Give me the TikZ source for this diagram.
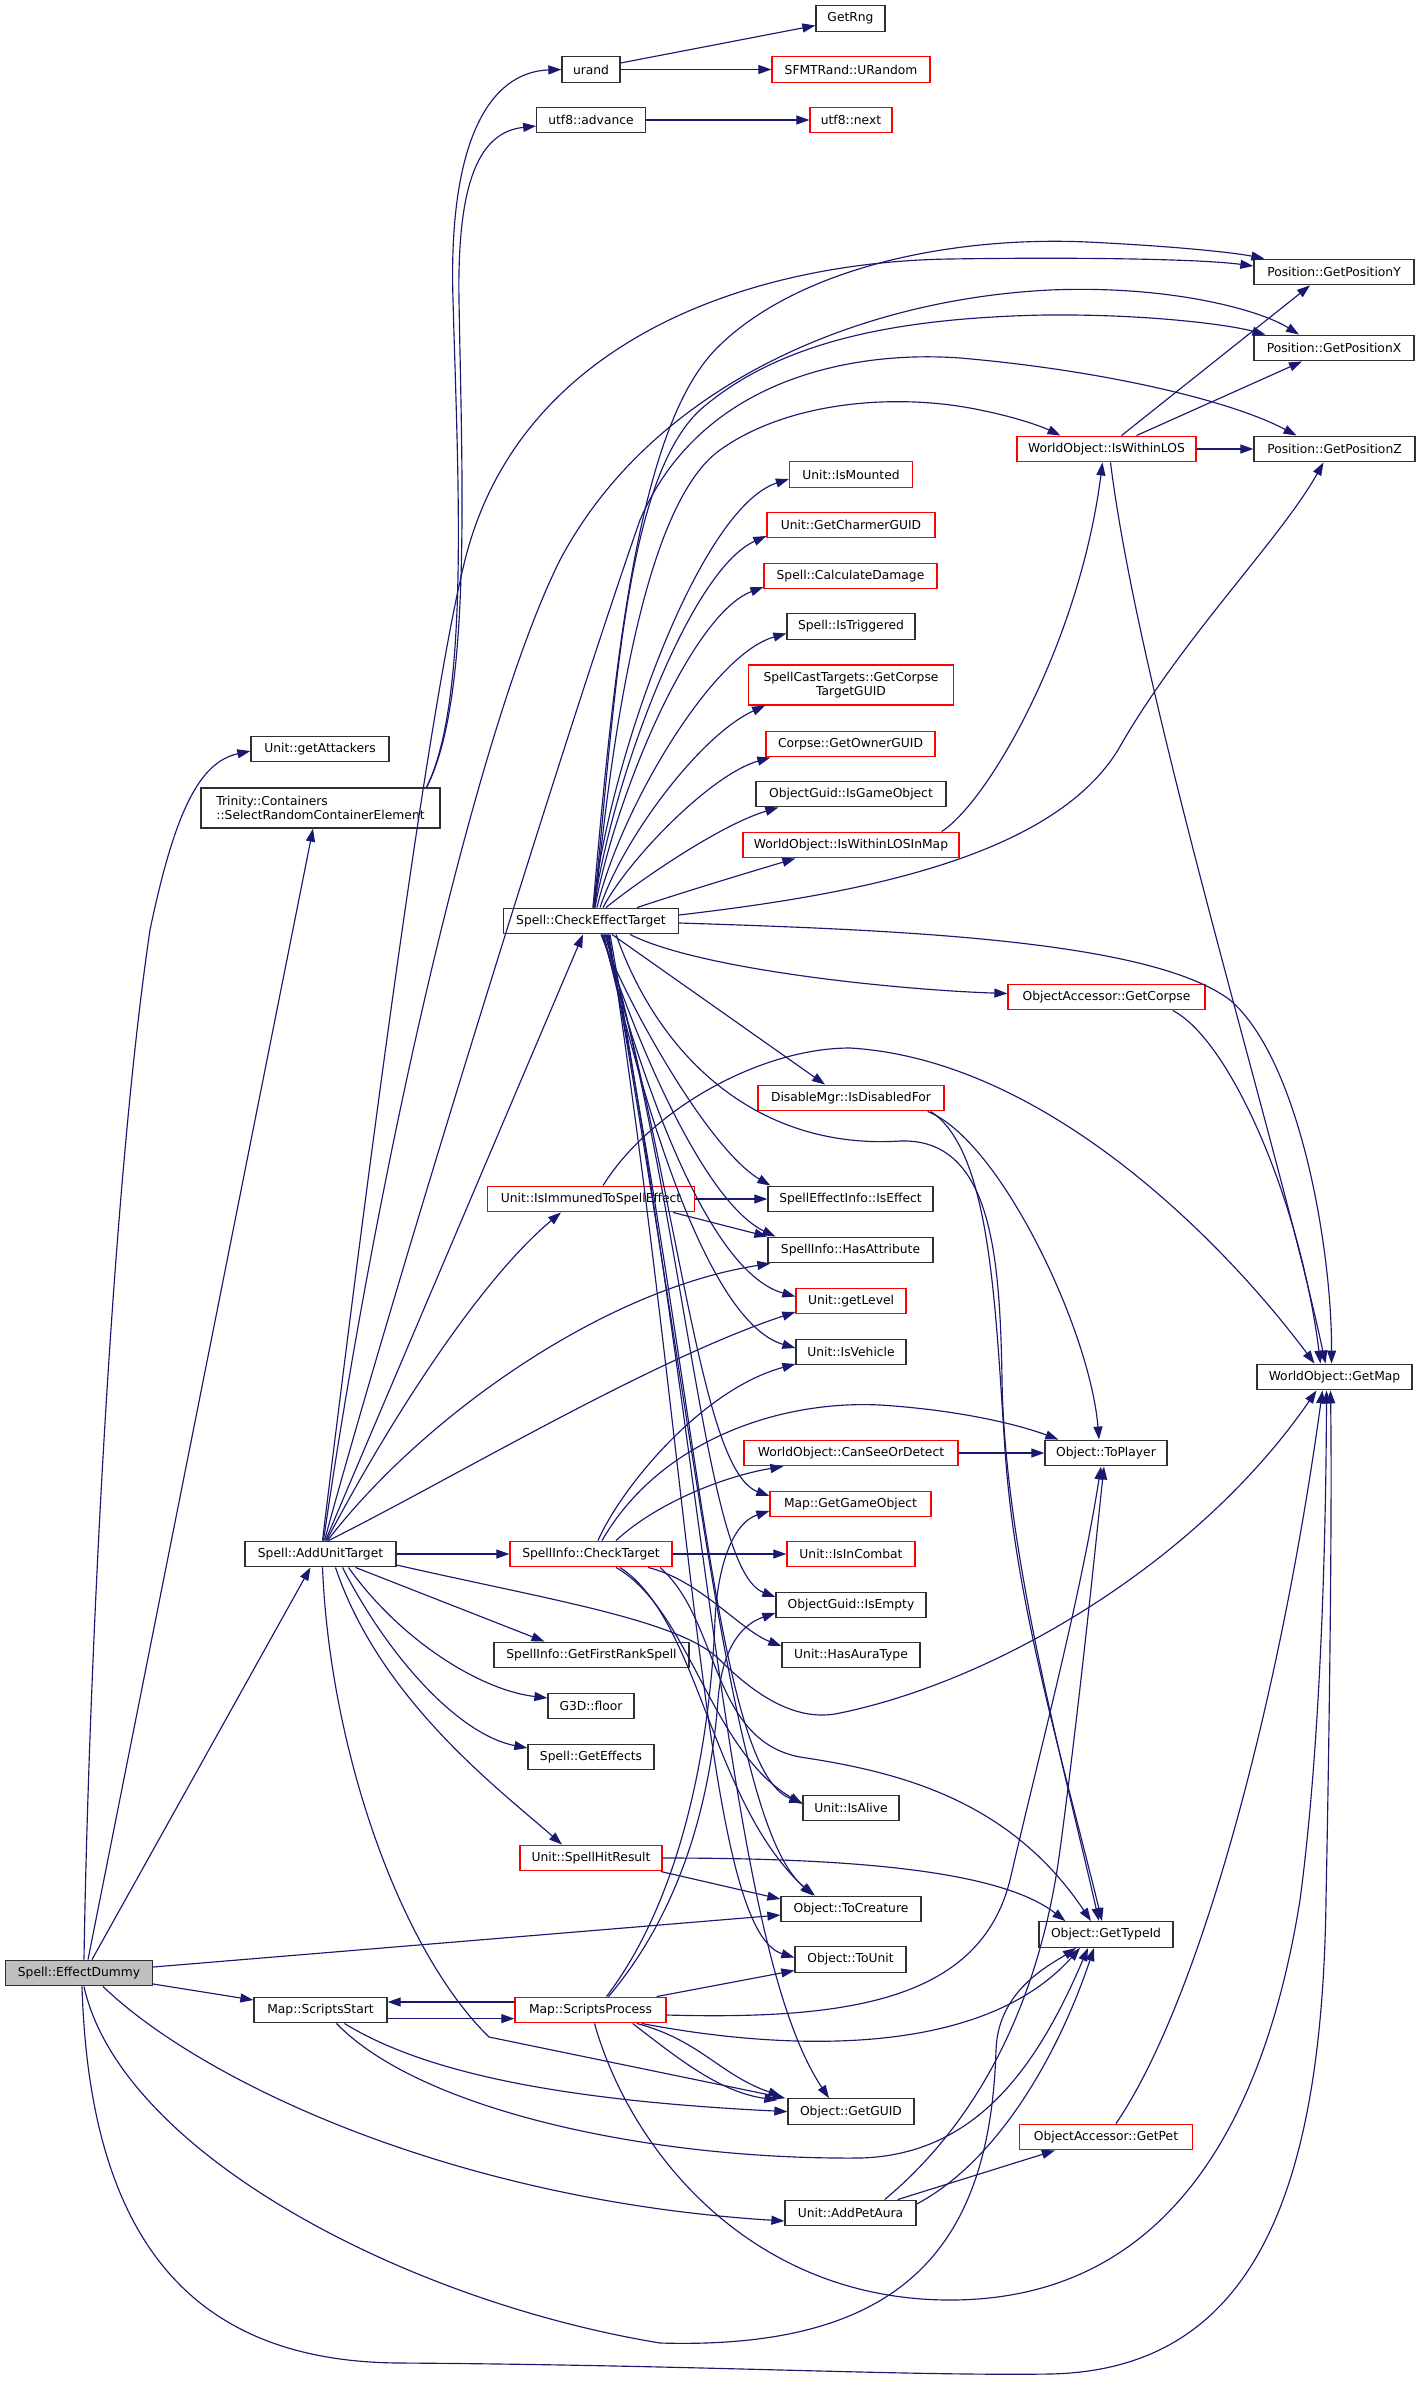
\documentclass[tikz,border=0pt]{standalone}
\usepackage{fontspec}
\setmainfont{DejaVu Sans}
\usetikzlibrary{arrows.meta,calc}
\definecolor{edgecol}{HTML}{191970}
\definecolor{grayfill}{HTML}{BFBFBF}
\definecolor{bordercol}{HTML}{303030}
\begin{document}
\begin{tikzpicture}[x=1pt,y=-1pt,
 nd/.style={draw=bordercol, line width=1.3pt, rectangle, inner sep=0pt, minimum height=25.6pt, font=\fontsize{12.3}{14.5}\selectfont, fill=white},
 rd/.style={nd, draw=red},
 e/.style={draw=edgecol, line width=1.15pt, -{Triangle[length=13pt,width=9pt]}}]
\useasboundingbox (0,0) rectangle (1421,2381);
\fill[white] (0,0) rectangle (1421,2381);
% nodes
\node[nd, minimum width=69pt] (rng) at (850.5,18.5) {GetRng};
\node[nd, minimum width=58pt] (urand) at (591,69.5) {urand};
\node[rd, minimum width=158pt] (sfmt) at (851,69.5) {SFMTRand::URandom};
\node[nd, minimum width=108.5pt] (adv) at (591,120) {utf8::advance};
\node[rd, minimum width=82pt] (next) at (851,120) {utf8::next};
\node[nd, minimum width=160pt] (posy) at (1334,272) {Position::GetPositionY};
\node[nd, minimum width=160pt] (posx) at (1334,348) {Position::GetPositionX};
\node[rd, minimum width=179pt] (los) at (1106.5,449) {WorldObject::IsWithinLOS};
\node[nd, minimum width=161pt] (posz) at (1334.5,449) {Position::GetPositionZ};
\node[rd, minimum width=123pt] (mounted) at (851,474.5) {Unit::IsMounted};
\node[rd, minimum width=168pt] (charmer) at (851,525) {Unit::GetCharmerGUID};
\node[rd, minimum width=173pt] (dmg) at (850.5,576) {Spell::CalculateDamage};
\node[nd, minimum width=128pt] (trig) at (851,626.5) {Spell::IsTriggered};
\node[rd, minimum width=204.5pt, minimum height=40pt, align=center] (corpse) at (851,685) {SpellCastTargets::GetCorpse\\TargetGUID};
\node[rd, minimum width=169pt] (owner) at (850.5,744) {Corpse::GetOwnerGUID};
\node[nd, minimum width=190pt] (isgo) at (851,794) {ObjectGuid::IsGameObject};
\node[rd, minimum width=216pt] (losmap) at (851,845) {WorldObject::IsWithinLOSInMap};
\node[nd, minimum width=138pt] (att) at (320,749) {Unit::getAttackers};
\node[nd, minimum width=239pt, minimum height=40pt, align=left] (trin) at (320.5,808) {Trinity::Containers\\::SelectRandomContainerElement};
\node[nd, minimum width=175pt] (cet) at (591,921) {Spell::CheckEffectTarget};
\node[rd, minimum width=197pt] (getcorpse) at (1106.5,997) {ObjectAccessor::GetCorpse};
\node[rd, minimum width=186pt] (disable) at (851,1098) {DisableMgr::IsDisabledFor};
\node[rd, minimum width=207pt] (immune) at (591,1199) {Unit::IsImmunedToSpellEffect};
\node[nd, minimum width=165pt] (iseffect) at (850.5,1199) {SpellEffectInfo::IsEffect};
\node[nd, minimum width=165pt] (hasattr) at (850.5,1250) {SpellInfo::HasAttribute};
\node[rd, minimum width=110pt] (level) at (851,1301) {Unit::getLevel};
\node[nd, minimum width=110pt] (vehicle) at (851,1352) {Unit::IsVehicle};
\node[nd, minimum width=155pt] (getmap) at (1334.5,1377) {WorldObject::GetMap};
\node[rd, minimum width=214pt] (cansee) at (851,1453) {WorldObject::CanSeeOrDetect};
\node[nd, minimum width=122pt] (toplayer) at (1106,1453) {Object::ToPlayer};
\node[rd, minimum width=161pt] (getgo) at (850.5,1504) {Map::GetGameObject};
\node[nd, minimum width=151pt] (aut) at (320.5,1554) {Spell::AddUnitTarget};
\node[rd, minimum width=162pt] (ct) at (591,1554) {SpellInfo::CheckTarget};
\node[rd, minimum width=128pt] (combat) at (851,1554) {Unit::IsInCombat};
\node[nd, minimum width=150pt] (isempty) at (851,1605) {ObjectGuid::IsEmpty};
\node[nd, minimum width=138pt] (aura) at (851,1655) {Unit::HasAuraType};
\node[nd, minimum width=195pt] (firstrank) at (591.5,1655) {SpellInfo::GetFirstRankSpell};
\node[nd, minimum width=86pt] (floor) at (591,1706) {G3D::floor};
\node[nd, minimum width=126pt] (effects) at (591,1757) {Spell::GetEffects};
\node[nd, minimum width=96pt] (alive) at (851,1808) {Unit::IsAlive};
\node[rd, minimum width=142pt] (hit) at (591,1858) {Unit::SpellHitResult};
\node[nd, minimum width=140pt] (tocreature) at (851,1909) {Object::ToCreature};
\node[nd, minimum width=134pt] (typeid) at (1106,1934.5) {Object::GetTypeId};
\node[nd, minimum width=111pt] (tounit) at (850.5,1959.5) {Object::ToUnit};
\node[nd, minimum width=147pt, fill=grayfill] (ed) at (79,1973) {Spell::EffectDummy};
\node[nd, minimum width=133pt] (sstart) at (320.5,2010) {Map::ScriptsStart};
\node[rd, minimum width=151pt] (sproc) at (590.5,2010) {Map::ScriptsProcess};
\node[nd, minimum width=126pt] (guid) at (851,2111.6) {Object::GetGUID};
\node[rd, minimum width=173pt] (getpet) at (1106,2137) {ObjectAccessor::GetPet};
\node[nd, minimum width=131pt] (petaura) at (850.5,2213) {Unit::AddPetAura};

% ---- edges ----
\draw[e] ($(urand.east)+(0,-6.5)$) -- ($(rng.west)+(0,7)$);
\draw[e] (urand.east) -- (sfmt.west);
\draw[e] (adv.east) -- (next.west);
\draw[e] ($(trin.north)+(106,0)$) .. controls (470,700) and (458,480) .. (453,300) .. controls (448,140) and (490,72) .. (urand.west);
\draw[e] ($(trin.north)+(106,0)$) .. controls (472,700) and (462,480) .. (459,300) .. controls (457,180) and (480,132) .. ($(adv.west)+(0,6)$);
% positions
\draw[e] ($(aut.north)+(2,0)$) .. controls (370,1150) and (430,700) .. (465,560) .. controls (520,340) and (750,262) .. (950,259) .. controls (1080,257) and (1200,259) .. ($(posy.west)+(0,-6)$);
\draw[e] ($(cet.north)+(2,0)$) .. controls (615,650) and (640,420) .. (720,345) .. controls (800,268) and (950,236) .. (1087,242) .. controls (1170,246) and (1230,252) .. ($(posy.north west)+(11,0)$);
\draw[e] ($(aut.north)+(3,0)$) .. controls (380,1150) and (480,720) .. (560,560) .. controls (650,390) and (850,300) .. (1050,290) .. controls (1170,285) and (1260,310) .. ($(posx.north)+(-35,0)$);
\draw[e] ($(cet.north)+(3,0)$) .. controls (615,700) and (625,480) .. (700,410) .. controls (780,340) and (900,318) .. (1045,315) .. controls (1150,314) and (1230,325) .. ($(posx.north west)+(12,0)$);
\draw[e] ($(aut.north)+(4,0)$) .. controls (390,1300) and (560,750) .. (640,520) .. controls (700,380) and (850,350) .. (960,358) .. controls (1100,370) and (1230,400) .. ($(posz.north)+(-38,0)$);
\draw[e] ($(cet.north)+(4,0)$) .. controls (615,700) and (650,500) .. (720,450) .. controls (790,400) and (900,393) .. (980,410) .. controls (1020,418) and (1045,428) .. ($(los.north)+(-46,0)$);
\draw[e] ($(cet.east)+(0,-6)$) .. controls (850,895) and (1050,860) .. (1118,750) .. controls (1180,640) and (1280,540) .. ($(posz.south)+(-11,0)$);
\draw[e] ($(los.north)+(15,0)$) -- ($(posy.south)+(-24,0)$);
\draw[e] ($(los.north)+(30,0)$) -- ($(posx.south)+(-32,0)$);
\draw[e] (los.east) -- (posz.west);
\draw[e] ($(los.south)+(4,0)$) .. controls (1140,700) and (1280,1150) .. ($(getmap.north)+(-9,0)$);
\draw[e] ($(losmap.north east)+(-18,0)$) .. controls (990,800) and (1080,640) .. ($(los.south)+(-4,0)$);
% CET top fan
\draw[e] ($(cet.north)+(2,0)$) .. controls (610,757) and (700,508) .. ($(mounted.west)+(0,4.5)$);
\draw[e] ($(cet.north)+(3,0)$) .. controls (612,780) and (690,570) .. ($(charmer.west)+(0,11)$);
\draw[e] ($(cet.north)+(4,0)$) .. controls (614,800) and (690,615) .. ($(dmg.west)+(0,11)$);
\draw[e] ($(cet.north)+(6,0)$) .. controls (618,815) and (710,655) .. ($(trig.west)+(0,7)$);
\draw[e] ($(cet.north)+(9,0)$) .. controls (622,840) and (700,735) .. ($(corpse.south west)+(17,0)$);
\draw[e] ($(cet.north)+(12,0)$) .. controls (628,860) and (710,775) .. ($(owner.south west)+(5,0)$);
\draw[e] ($(cet.north)+(15,0)$) .. controls (640,880) and (720,825) .. ($(isgo.south west)+(23,0)$);
\draw[e] ($(cet.north)+(46,0)$) .. controls (690,890) and (750,872) .. ($(losmap.south west)+(53,0)$);
% CET bottom / right
\draw[e] ($(cet.south)+(39,0)$) .. controls (700,970) and (900,990) .. ($(getcorpse.west)+(0,-3.5)$);
\draw[e] ($(cet.east)+(0,2)$) .. controls (900,930) and (1150,940) .. (1230,1000) .. controls (1300,1060) and (1332,1250) .. ($(getmap.north)+(-3,0)$);
\draw[e] ($(cet.south)+(21,0)$) -- ($(disable.north)+(-26,0)$);
\draw[e] ($(cet.south)+(10,0)$) .. controls (630,1010) and (710,1150) .. ($(iseffect.north west)+(3,0)$);
\draw[e] ($(cet.south)+(11,0)$) .. controls (628,1020) and (700,1200) .. ($(hasattr.north west)+(8,0)$);
\draw[e] ($(cet.south)+(12,0)$) .. controls (630,1040) and (700,1270) .. ($(level.west)+(0,-4.5)$);
\draw[e] ($(cet.south)+(13,0)$) .. controls (632,1060) and (700,1320) .. ($(vehicle.west)+(0,-4)$);
\draw[e] ($(cet.south)+(14,0)$) .. controls (680,1200) and (700,1470) .. ($(getgo.west)+(0,-8)$);
\draw[e] ($(cet.south)+(15,0)$) .. controls (690,1250) and (705,1570) .. ($(isempty.west)+(0,-8)$);
\draw[e] ($(cet.south)+(16,0)$) .. controls (700,1400) and (715,1770) .. ($(alive.west)+(0,-5)$);
\draw[e] ($(cet.south)+(17,0)$) .. controls (700,1450) and (730,1830) .. ($(tocreature.north)+(-36,0)$);
\draw[e] ($(cet.south)+(18,0)$) .. controls (695,1500) and (705,1930) .. ($(tounit.west)+(0,-2)$);
\draw[e] ($(cet.south)+(19,0)$) .. controls (710,1500) and (730,1950) .. ($(guid.north)+(-22,0)$);
\draw[e] ($(cet.south)+(25,0)$) .. controls (660,1060) and (760,1150) .. (900,1141) .. controls (990,1138) and (1000,1250) .. (1002,1380) .. controls (1005,1550) and (1060,1750) .. ($(typeid.north)+(-7,0)$);
% DisableMgr
\draw[e] ($(disable.south east)+(-17,0)$) .. controls (1000,1140) and (1090,1330) .. ($(toplayer.north)+(-7,0)$);
\draw[e] ($(disable.south east)+(-14,0)$) .. controls (990,1150) and (995,1300) .. (1005,1450) .. controls (1015,1600) and (1060,1750) .. ($(typeid.north)+(-4,0)$);
% Immune
\draw[e] (immune.east) -- (iseffect.west);
\draw[e] ($(immune.south east)+(-22,0)$) -- (hasattr.north west);
\draw[e] ($(immune.north)+(12,0)$) .. controls (650,1110) and (760,1048) .. (850,1048) .. controls (1050,1060) and (1230,1250) .. ($(getmap.north)+(-20,0)$);
% AddUnitTarget
\draw[e] ($(aut.north)+(5,0)$) -- ($(cet.south)+(-8,0)$);
\draw[e] ($(aut.north)+(6,0)$) .. controls (390,1420) and (480,1280) .. ($(immune.south)+(-30,0)$);
\draw[e] ($(aut.north)+(7,0)$) .. controls (420,1420) and (600,1290) .. ($(hasattr.south west)+(3,0)$);
\draw[e] ($(aut.north)+(8,0)$) .. controls (450,1480) and (650,1360) .. ($(level.west)+(0,11)$);
\draw[e] (aut.east) -- (ct.west);
\draw[e] ($(aut.south)+(35,0)$) -- ($(firstrank.north)+(-47,0)$);
\draw[e] ($(aut.south)+(28,0)$) .. controls (400,1640) and (480,1690) .. ($(floor.west)+(0,-8)$);
\draw[e] ($(aut.south)+(22,0)$) .. controls (390,1660) and (460,1735) .. ($(effects.west)+(0,-9)$);
\draw[e] ($(aut.south)+(15,0)$) .. controls (380,1700) and (500,1790) .. ($(hit.north)+(-29,0)$);
\draw[e] ($(aut.east)+(0,11)$) .. controls (550,1600) and (680,1620) .. (720,1660) .. controls (760,1700) and (800,1722) .. (840,1713) .. controls (1000,1680) and (1200,1560) .. ($(getmap.south)+(-18,0)$);
\draw[e] ($(aut.south)+(2,0)$) .. controls (330,1750) and (400,1950) .. (489,2037) -- ($(guid.north west)+(-2,0)$);
% CheckTarget
\draw[e] ($(ct.north)+(7,0)$) .. controls (620,1490) and (700,1390) .. ($(vehicle.west)+(0,12)$);
\draw[e] ($(ct.north)+(11,0)$) .. controls (660,1440) and (780,1400) .. (880,1405) .. controls (960,1410) and (1020,1425) .. ($(toplayer.north west)+(14,0)$);
\draw[e] ($(ct.north)+(25,0)$) .. controls (660,1500) and (730,1475) .. ($(cansee.south west)+(40,0)$);
\draw[e] (ct.east) -- (combat.west);
\draw[e] ($(ct.south)+(57,0)$) .. controls (700,1580) and (740,1630) .. ($(aura.west)+(0,-9)$);
\draw[e] ($(ct.south)+(25,0)$) .. controls (690,1610) and (710,1750) .. ($(alive.west)+(0,-4)$);
\draw[e] ($(ct.south)+(29,0)$) .. controls (700,1620) and (710,1800) .. ($(tocreature.north)+(-38,0)$);
\draw[e] ($(ct.south)+(69,0)$) .. controls (720,1620) and (710,1740) .. (800,1757) .. controls (900,1772) and (1010,1800) .. ($(typeid.north)+(-15,0)$);
% SpellHitResult
\draw[e] ($(hit.south east)+(-2,0)$) -- ($(tocreature.west)+(0,-10)$);
\draw[e] (hit.east) .. controls (850,1858) and (1000,1870) .. ($(typeid.north west)+(27,0)$);
\draw[e] (cansee.east) -- (toplayer.west);
% EffectDummy
\draw[e] ($(ed.north)+(5,0)$) .. controls (88,1700) and (110,1200) .. (150,930) .. controls (175,810) and (200,762) .. ($(att.west)+(0,2)$);
\draw[e] ($(ed.north)+(9,0)$) -- ($(trin.south)+(-7.5,0)$);
\draw[e] ($(ed.north)+(13,0)$) -- ($(aut.south)+(-10,0)$);
\draw[e] ($(ed.east)+(0,-6)$) -- ($(tocreature.west)+(0,6)$);
\draw[e] ($(ed.east)+(0,11)$) -- ($(sstart.west)+(0,-10)$);
\draw[e] ($(ed.south)+(24,0)$) .. controls (200,2080) and (450,2200) .. ($(petaura.west)+(0,8)$);
\draw[e] ($(ed.south)+(5,0)$) .. controls (120,2150) and (400,2300) .. (660,2343) .. controls (900,2350) and (990,2250) .. (996,2050) .. controls (998,1990) and (1050,1965) .. ($(typeid.south)+(-30,0)$);
\draw[e] ($(ed.south)+(3,0)$) .. controls (90,2250) and (200,2362) .. (400,2363) .. controls (700,2365) and (900,2376) .. (1050,2374) .. controls (1250,2370) and (1322,2200) .. (1326,1900) .. controls (1330,1700) and (1332,1500) .. ($(getmap.south)+(-4,0)$);
% ScriptsStart / ScriptsProcess
\draw[e] ($(sstart.east)+(0,8.6)$) -- ($(sproc.west)+(0,8.6)$);
\draw[e] ($(sproc.west)+(0,-8)$) -- ($(sstart.east)+(0,-8)$);
\draw[e] ($(sstart.south)+(24,0)$) .. controls (420,2070) and (550,2100) .. (guid.west);
\draw[e] ($(sstart.south)+(16,0)$) .. controls (420,2110) and (650,2160) .. (860,2158) .. controls (980,2155) and (1040,2060) .. ($(typeid.south)+(-18,0)$);
\draw[e] ($(sproc.north east)+(-10,0)$) -- ($(tounit.west)+(0,11)$);
\draw[e] ($(sproc.east)+(0,5)$) .. controls (850,2020) and (980,2000) .. (1010,1880) .. controls (1040,1750) and (1080,1600) .. ($(toplayer.south)+(-5,0)$);
\draw[e] ($(sproc.south east)+(-25,0)$) .. controls (780,2050) and (980,2060) .. ($(typeid.south)+(-26,0)$);
\draw[e] ($(sproc.south east)+(-30,0)$) .. controls (700,2040) and (720,2075) .. ($(guid.north west)+(-6,-2)$);
\draw[e] ($(sproc.south east)+(-34,0)$) .. controls (680,2060) and (720,2092) .. ($(guid.north west)+(-10,2)$);
\draw[e] ($(sproc.north)+(16,0)$) .. controls (680,1900) and (710,1750) .. (715,1620) .. controls (718,1560) and (735,1522) .. ($(getgo.west)+(0,7)$);
\draw[e] ($(sproc.north)+(18,0)$) .. controls (690,1900) and (712,1780) .. (718,1700) .. controls (722,1650) and (740,1625) .. ($(isempty.west)+(0,8)$);
\draw[e] ($(sproc.south)+(4,0)$) .. controls (630,2150) and (750,2300) .. (950,2300) .. controls (1150,2300) and (1260,2150) .. (1300,1900) .. controls (1320,1750) and (1326,1550) .. ($(getmap.south)+(-8,0)$);
% AddPetAura / GetPet / GetCorpse
\draw[e] ($(petaura.north east)+(-19,0)$) -- ($(getpet.south west)+(36,0)$);
\draw[e] ($(petaura.north east)+(-32,0)$) .. controls (980,2120) and (1040,2000) .. (1060,1850) .. controls (1080,1700) and (1095,1550) .. ($(toplayer.south)+(-2,0)$);
\draw[e] ($(petaura.east)+(0,-9)$) .. controls (1000,2160) and (1060,2050) .. ($(typeid.south)+(-12,0)$);
\draw[e] ($(getpet.north)+(10,0)$) .. controls (1200,2000) and (1280,1700) .. ($(getmap.south)+(-12,0)$);
\draw[e] ($(getcorpse.south east)+(-33,0)$) .. controls (1230,1040) and (1300,1200) .. ($(getmap.north)+(-14,0)$);
\end{tikzpicture}
\end{document}
